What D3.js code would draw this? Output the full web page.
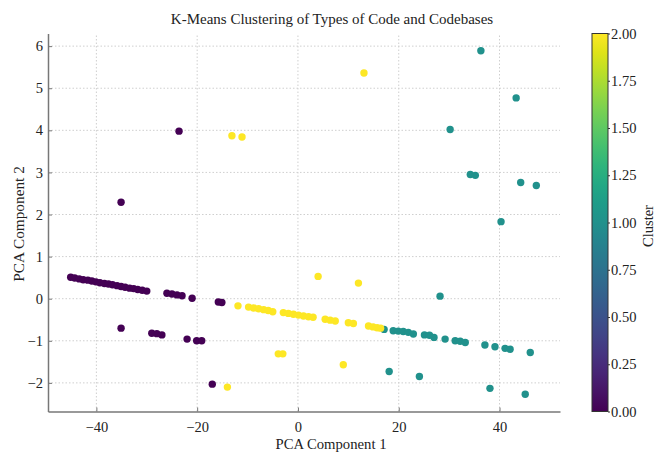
<!DOCTYPE html>
<html>
<head>
<meta charset="utf-8">
<script src="https://cdn.jsdelivr.net/npm/d3@7"></script>
<style>
  body { margin: 0; background: #fff; }
  text { font-family: "Liberation Serif", "DejaVu Serif", serif; fill: #222; }
</style>
</head>
<body>
<svg id="chart" width="669" height="453"></svg>
<script>
// cluster 0 (purple)
const c0x = [-45.1, -44.3, -43.4, -42.6, -41.7, -40.9, -40.1, -39.3, -38.4, -37.6, -36.8, -35.9, -35.1, -34.3, -33.4, -32.6, -31.8, -30.9, -30.0,
  -26.0, -25.0, -24.0, -23.0, -21.0, -15.8, -15.1,
  -35.1, -29.0, -28.0, -27.0, -22.0, -20.1, -19.1,
  -35.1, -23.6, -17.0];
const c0y = [0.51, 0.49, 0.47, 0.45, 0.44, 0.42, 0.40, 0.38, 0.36, 0.35, 0.33, 0.31, 0.29, 0.27, 0.25, 0.24, 0.22, 0.20, 0.18,
  0.13, 0.11, 0.09, 0.07, 0.01, -0.08, -0.09,
  -0.70, -0.82, -0.83, -0.86, -0.96, -1.00, -1.00,
  2.29, 3.98, -2.03];

// cluster 1 (teal)
const c1x = [17.1, 18.9, 19.9, 20.9, 21.9, 22.9, 25.1, 26.1, 27.0, 29.2, 31.2, 32.2, 33.2, 37.1, 39.1, 41.1, 42.1, 46.1,
  18.1, 24.1, 38.1, 45.1,
  36.3, 43.3, 30.2, 34.2, 35.2, 44.2, 47.3, 40.3, 28.2];
const c1y = [-0.73, -0.76, -0.77, -0.78, -0.80, -0.84, -0.86, -0.87, -0.92, -0.96, -1.00, -1.01, -1.04, -1.10, -1.14, -1.18, -1.20, -1.28,
  -1.73, -1.85, -2.13, -2.27,
  5.89, 4.77, 4.02, 2.95, 2.93, 2.76, 2.69, 1.83, 0.06];

// cluster 2 (yellow)
const c2x = [-11.9, -9.8, -8.8, -7.8, -6.8, -5.9, -5.0, -2.9, -1.9, -0.9, 0.1, 1.1, 2.1, 3.0, 5.4, 6.4, 7.4, 10.0, 11.0, 14.0, 14.9, 15.7, 16.4,
  -13.1, -11.1, 13.1, 4.0, 12.0, -3.9, -3.0, 9.0, -14.0];
const c2y = [-0.17, -0.20, -0.22, -0.24, -0.26, -0.28, -0.31, -0.33, -0.35, -0.37, -0.39, -0.41, -0.43, -0.44, -0.49, -0.51, -0.53, -0.57, -0.59, -0.65, -0.67, -0.69, -0.70,
  3.87, 3.84, 5.36, 0.53, 0.37, -1.31, -1.31, -1.57, -2.10];

const xTicks = [-40, -20, 0, 20, 40];
const yTicks = [-2, -1, 0, 1, 2, 3, 4, 5, 6];
const cbTicks = [0, 0.25, 0.5, 0.75, 1, 1.25, 1.5, 1.75, 2];

const svg = d3.select("#chart");

const x = d3.scaleLinear().domain([-49.6, 52.0]).range([48, 560]);
const y = d3.scaleLinear().domain([-2.68, 6.30]).range([411.5, 33.5]);
const color = d3.scaleSequential(d3.interpolateViridis).domain([0, 2]);

// grid
const grid = svg.append("g");
grid.selectAll("line.gx")
  .data(xTicks)
  .join("line")
  .attr("x1", d => x(d)).attr("x2", d => x(d))
  .attr("y1", y.range()[0]).attr("y2", y.range()[1])
  .attr("stroke", "#cfcfcf")
  .attr("stroke-dasharray", "1.5,2");
grid.selectAll("line.gy")
  .data(yTicks)
  .join("line")
  .attr("y1", d => y(d)).attr("y2", d => y(d))
  .attr("x1", x.range()[0]).attr("x2", x.range()[1])
  .attr("stroke", "#cfcfcf")
  .attr("stroke-dasharray", "1.5,2");

// points
const points = [];
c0x.forEach((v, i) => points.push({ x: v, y: c0y[i], c: 0 }));
c1x.forEach((v, i) => points.push({ x: v, y: c1y[i], c: 1 }));
c2x.forEach((v, i) => points.push({ x: v, y: c2y[i], c: 2 }));

svg.append("g")
  .selectAll("circle")
  .data(points)
  .join("circle")
  .attr("cx", d => x(d.x))
  .attr("cy", d => y(d.y))
  .attr("r", 3.7)
  .attr("fill", d => color(d.c));

// axes
const xAxis = svg.append("g")
  .attr("transform", `translate(0,${y.range()[0]})`)
  .call(d3.axisBottom(x).tickValues(xTicks).tickSizeInner(-4).tickSizeOuter(0).tickPadding(10));
const yAxis = svg.append("g")
  .attr("transform", `translate(${x.range()[0]},0)`)
  .call(d3.axisLeft(y).tickValues(yTicks).tickSizeInner(-4).tickSizeOuter(0).tickPadding(5));

[xAxis, yAxis].forEach(a => {
  a.select(".domain").attr("stroke", "#777").attr("stroke-width", 1.5);
  a.selectAll(".tick line").attr("stroke", "#777");
  a.selectAll(".tick text").attr("font-size", 14.5).attr("fill", "#222")
    .attr("font-family", "Liberation Serif");
});

// titles
svg.append("text")
  .attr("x", 332).attr("y", 24)
  .attr("text-anchor", "middle")
  .attr("font-size", 15)
  .text("K-Means Clustering of Types of Code and Codebases");

svg.append("text")
  .attr("x", 331).attr("y", 449)
  .attr("text-anchor", "middle")
  .attr("font-size", 14.7)
  .text("PCA Component 1");

svg.append("text")
  .attr("transform", "translate(24,224) rotate(-90)")
  .attr("text-anchor", "middle")
  .attr("font-size", 15.3)
  .text("PCA Component 2");

// colorbar
const cbX = 592, cbW = 16;
const cb = d3.scaleLinear().domain([0, 2]).range([411.5, 33.5]);
const defs = svg.append("defs");
const grad = defs.append("linearGradient")
  .attr("id", "viridis")
  .attr("x1", 0).attr("y1", 1).attr("x2", 0).attr("y2", 0);
grad.selectAll("stop")
  .data(d3.range(0, 1.001, 0.05))
  .join("stop")
  .attr("offset", d => d)
  .attr("stop-color", d => d3.interpolateViridis(d));

svg.append("rect")
  .attr("x", cbX).attr("y", cb.range()[1])
  .attr("width", cbW).attr("height", cb.range()[0] - cb.range()[1])
  .attr("fill", "url(#viridis)")
  .attr("stroke", "#333")
  .attr("stroke-width", 1);

const cbAxis = svg.append("g")
  .attr("transform", `translate(${cbX + cbW},0)`)
  .call(d3.axisRight(cb).tickValues(cbTicks).tickFormat(d3.format(".2f")).tickSizeInner(2).tickSizeOuter(0).tickPadding(1));
cbAxis.select(".domain").remove();
cbAxis.selectAll(".tick line").attr("stroke", "#333");
cbAxis.selectAll(".tick text").attr("font-size", 14.5).attr("fill", "#222")
  .attr("font-family", "Liberation Serif");

svg.append("text")
  .attr("transform", "translate(653,226) rotate(-90)")
  .attr("text-anchor", "middle")
  .attr("font-size", 14.5)
  .text("Cluster");
</script>
</body>
</html>
